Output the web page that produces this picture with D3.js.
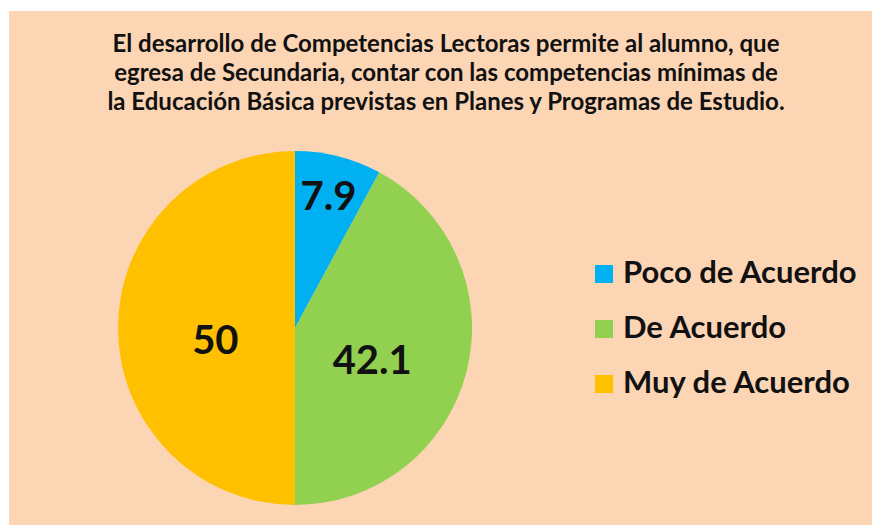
<!DOCTYPE html>
<html>
<head>
<meta charset="utf-8">
<script src="https://cdn.jsdelivr.net/npm/d3@7"></script>
<style>
  body { margin: 0; background: #fff; }
  text { font-family: Lato, "Open Sans", sans-serif; font-weight: bold; fill: #111; }
</style>
</head>
<body>
<div id="chart"></div>
<script>
// datos
const categories = ["Poco de Acuerdo", "De Acuerdo", "Muy de Acuerdo"];
const values = [7.9, 42.1, 50];
const colors = ["#00B0F0", "#92D050", "#FFC000"];
const titleLines = [
  "El desarrollo de Competencias Lectoras permite al alumno, que",
  "egresa de Secundaria, contar con las competencias mínimas de",
  "la Educación Básica previstas en Planes y Programas de Estudio."
];

const width = 872;
const height = 525;
const radius = 177;
const cx = 295, cy = 328;

const svg = d3.select("#chart")
  .append("svg")
  .attr("width", width)
  .attr("height", height);

// fondo
svg.append("rect")
  .attr("x", 9)
  .attr("y", 11)
  .attr("width", width - 9)
  .attr("height", height - 11)
  .attr("fill", "#FCD5B5");

// titulo
svg.append("text")
  .attr("x", 446)
  .attr("y", 52)
  .attr("text-anchor", "middle")
  .style("font-size", "24px")
  .selectAll("tspan")
  .data(titleLines)
  .enter()
  .append("tspan")
  .attr("x", 446)
  .attr("dy", (d, i) => i === 0 ? 0 : 29)
  .text(d => d);

const color = d3.scaleOrdinal().domain(categories).range(colors);

const pie = d3.pie().sort(null).value(d => d.value);
const data = categories.map((c, i) => ({ name: c, value: values[i] }));

const arc = d3.arc().innerRadius(0).outerRadius(radius);

const g = svg.append("g").attr("transform", `translate(${cx},${cy})`);

const slices = pie(data);

g.selectAll("path")
  .data(slices)
  .enter()
  .append("path")
  .attr("d", arc)
  .attr("fill", d => color(d.data.name));

// etiquetas: rebanadas pequeñas hacia afuera
const isSmall = d => (d.endAngle - d.startAngle) < 1;
const labelPos = d => {
  const r = isSmall(d) ? radius * 0.77 : radius * 0.45;
  return d3.arc().innerRadius(r).outerRadius(r).centroid(d);
};

g.selectAll("text.val")
  .data(slices)
  .enter()
  .append("text")
  .attr("class", "val")
  .attr("x", d => labelPos(d)[0])
  .attr("y", d => labelPos(d)[1] + (isSmall(d) ? 0 : 12))
  .attr("dy", "0.36em")
  .attr("text-anchor", "middle")
  .style("font-size", "40px")
  .text(d => d.data.value);

// leyenda
const legend = svg.append("g").attr("transform", "translate(595,265)");
const item = legend.selectAll("g")
  .data(categories)
  .enter()
  .append("g")
  .attr("transform", (d, i) => `translate(0,${i * 55})`);

item.append("rect")
  .attr("width", 18)
  .attr("height", 18)
  .attr("fill", d => color(d));

item.append("text")
  .attr("x", 28)
  .attr("y", 18)
  .style("font-size", "31px")
  .text(d => d);
</script>
</body>
</html>
